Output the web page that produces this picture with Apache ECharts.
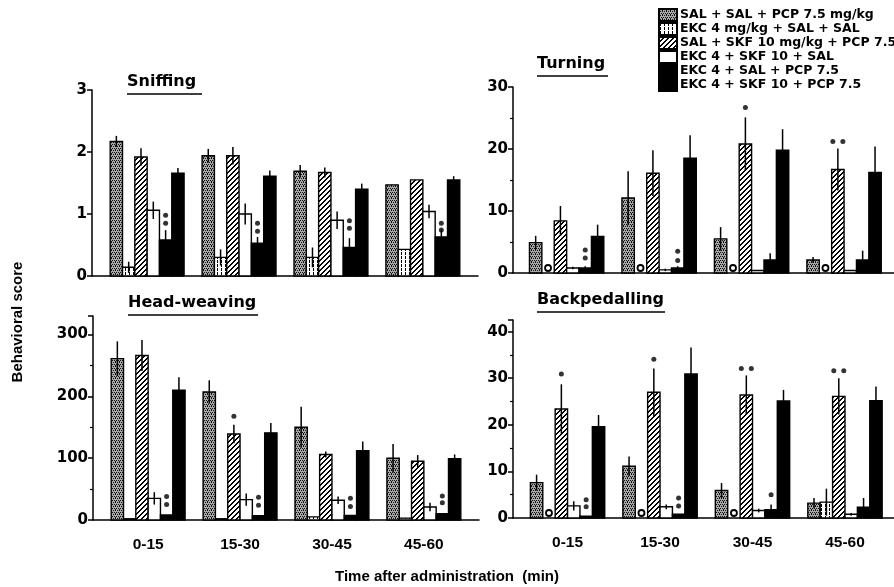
<!DOCTYPE html>
<html>
<head>
<meta charset="utf-8">
<script src="https://cdn.jsdelivr.net/npm/echarts@6/dist/echarts.min.js"></script>
<style>
  html, body { margin: 0; padding: 0; background: #fff; }
  #chart { width: 894px; height: 587px; }
</style>
</head>
<body>
<div id="chart"></div>
<script>
// categories and treatments
var groups = ['0-15', '15-30', '30-45', '45-60'];
var treatments = [
    'SAL + SAL + PCP 7.5 mg/kg',
    'EKC 4 mg/kg + SAL + SAL',
    'SAL + SKF 10 mg/kg + PCP 7.5',
    'EKC 4 + SKF 10 + SAL',
    'EKC 4 + SAL + PCP 7.5',
    'EKC 4 + SKF 10 + PCP 7.5'
];

// Sniffing: mean / sem, one row per treatment
var sniffMean = [
    [2.17, 1.94, 1.69, 1.47],
    [0.14, 0.30, 0.30, 0.43],
    [1.92, 1.94, 1.67, 1.55],
    [1.06, 1.00, 0.90, 1.04],
    [0.58, 0.53, 0.46, 0.63],
    [1.66, 1.61, 1.40, 1.55]
];
var sniffErr = [
    [0.09, 0.11, 0.10, 0],
    [0.09, 0.13, 0.16, 0],
    [0.14, 0.14, 0.08, 0],
    [0.14, 0.17, 0.14, 0.11],
    [0.16, 0.10, 0.15, 0.12],
    [0.08, 0.09, 0.09, 0.06]
];
// Turning
var turnMean = [
    [4.9, 12.1, 5.5, 2.1],
    [0, 0, 0, 0],
    [8.4, 16.1, 20.8, 16.7],
    [0.8, 0.5, 0.4, 0.4],
    [0.8, 0.8, 2.1, 2.1],
    [5.9, 18.5, 19.8, 16.2]
];
var turnErr = [
    [1.1, 4.3, 1.9, 0.5],
    [0, 0, 0, 0],
    [2.4, 3.7, 4.3, 3.4],
    [0.2, 0.2, 0, 0],
    [0.3, 0.3, 1.1, 1.5],
    [1.9, 3.7, 3.4, 4.2]
];
// Head-weaving
var headMean = [
    [261, 207, 150, 100],
    [2, 2, 5, 3],
    [266, 139, 106, 95],
    [35, 33, 32, 21],
    [8, 7, 7.5, 10],
    [210, 141, 112, 99]
];
var headErr = [
    [28, 19, 33, 23],
    [0, 0, 0, 0],
    [25, 15, 5, 10],
    [10, 10, 6, 7],
    [0, 0, 0, 0],
    [21, 16, 15, 7]
];
// Backpedalling
var backMean = [
    [7.6, 11.1, 5.9, 3.2],
    [0, 0, 0, 3.4],
    [23.4, 27.0, 26.4, 26.1],
    [2.6, 2.4, 1.6, 0.8],
    [0.4, 0.8, 1.8, 2.3],
    [19.6, 30.9, 25.1, 25.2]
];
var backErr = [
    [1.7, 2.1, 1.6, 1.1],
    [0, 0, 0, 2.9],
    [5.3, 5.1, 4.2, 3.9],
    [1.0, 0.5, 0.4, 0.3],
    [0, 0, 1.1, 2.0],
    [2.5, 5.7, 2.4, 3.0]
];

// significance dots: [group, treatment, y, dx(px)]
var sniffStars = [[0, 4, 0.98], [0, 4, 0.85], [1, 4, 0.85], [1, 4, 0.72], [2, 4, 0.89], [2, 4, 0.77], [3, 4, 0.85], [3, 4, 0.74]];
var turnStars = [[0, 4, 3.7], [0, 4, 2.4], [1, 4, 3.5], [1, 4, 2.0], [2, 2, 26.7], [3, 2, 21.2, -5], [3, 2, 21.2, 5]];
var headStars = [[0, 4, 38], [0, 4, 25], [1, 2, 168], [1, 4, 37], [1, 4, 24], [2, 4, 35], [2, 4, 22], [3, 4, 39], [3, 4, 28]];
var backStars = [[0, 2, 30.9], [0, 4, 3.9], [0, 4, 2.4], [1, 2, 34.1], [1, 4, 4.3], [1, 4, 2.6], [2, 2, 32.1, -5], [2, 2, 32.1, 5], [2, 4, 5.0], [3, 2, 31.6, -5], [3, 2, 31.6, 5]];

var BAR_W = 0.134;
var FONT = 'DejaVu Sans';

function makePattern(w, h, draw) {
    var c = document.createElement('canvas');
    c.width = w;
    c.height = h;
    draw(c.getContext('2d'));
    return { image: c, repeat: 'repeat' };
}

// 印刷风格填充
var fills = [
    makePattern(4, 4, function (ctx) {
        ctx.fillStyle = '#a8a8a8';
        ctx.fillRect(0, 0, 4, 4);
        ctx.fillStyle = '#111';
        ctx.fillRect(0, 0, 1, 1);
        ctx.fillRect(2, 0, 1, 1);
        ctx.fillRect(1, 2, 1, 1);
        ctx.fillRect(3, 2, 1, 1);
        ctx.fillRect(3, 1, 1, 1);
    }),
    makePattern(4, 4, function (ctx) {
        ctx.fillStyle = '#fff';
        ctx.fillRect(0, 0, 4, 4);
        ctx.fillStyle = '#000';
        ctx.fillRect(1, 0, 1, 3);
    }),
    makePattern(5, 5, function (ctx) {
        ctx.fillStyle = '#fff';
        ctx.fillRect(0, 0, 5, 5);
        ctx.fillStyle = '#000';
        for (var i = 0; i < 5; i++) {
            ctx.fillRect(i, 4 - i, 1, 1);
            ctx.fillRect(i, (5 - i) % 5, 1, 1);
        }
    }),
    '#ffffff',
    '#000000',
    '#000000'
];

function makeBarRenderer(k) {
    return function (params, api) {
        var g = api.value(0), v = api.value(1), e = api.value(2);
        var xc = g + (k - 2.5) * BAR_W;
        var p0 = api.coord([xc - BAR_W / 2, v]);
        var p1 = api.coord([xc + BAR_W / 2, 0]);
        var children = [];
        if (v > 0) {
            children.push({
                type: 'rect',
                shape: { x: p0[0], y: p0[1], width: p1[0] - p0[0], height: p1[1] - p0[1] },
                style: { fill: fills[k], stroke: '#000', lineWidth: 1.4 }
            });
        } else {
            children.push({
                type: 'circle',
                shape: { cx: (p0[0] + p1[0]) / 2, cy: p1[1] - 5, r: 3 },
                style: { fill: 'none', stroke: '#000', lineWidth: 1.8 }
            });
        }
        if (e > 0) {
            var t = api.coord([xc, v + e]);
            var b = api.coord([xc, Math.max(0, v - e)]);
            children.push({
                type: 'line',
                shape: { x1: t[0], y1: t[1], x2: b[0], y2: b[1] },
                style: { stroke: '#000', lineWidth: 1.5 }
            });
        }
        return { type: 'group', children: children };
    };
}

var panels = [
    { mean: sniffMean, err: sniffErr, stars: sniffStars, grid: { left: 92, top: 90, width: 386, height: 186 },
      xMin: -0.6, xMax: 3.6, yMax: 3, interval: 1, minor: false, showX: false },
    { mean: turnMean, err: turnErr, stars: turnStars, grid: { left: 513, top: 87, width: 381, height: 186 },
      xMin: -0.58, xMax: 3.54, yMax: 30, interval: 10, minor: true, showX: false },
    { mean: headMean, err: headErr, stars: headStars, grid: { left: 93, top: 316, width: 386, height: 204 },
      xMin: -0.6, xMax: 3.6, yMax: 330, interval: 100, minor: true, showX: true },
    { mean: backMean, err: backErr, stars: backStars, grid: { left: 513, top: 320, width: 381, height: 198 },
      xMin: -0.59, xMax: 3.53, yMax: 42.5, interval: 10, minor: true, showX: true }
];

var grids = [], xAxes = [], yAxes = [], series = [];

panels.forEach(function (p, pi) {
    grids.push(p.grid);
    xAxes.push({
        type: 'value',
        gridIndex: pi,
        min: p.xMin,
        max: p.xMax,
        axisLine: { show: true, onZero: false, lineStyle: { color: '#000', width: 1.5 } },
        axisTick: { show: false },
        splitLine: { show: false },
        axisLabel: {
            show: p.showX,
            customValues: [0, 1, 2, 3],
            formatter: function (v) { return groups[Math.round(v)]; },
            color: '#000',
            fontFamily: 'Liberation Sans',
            fontWeight: 'bold',
            fontSize: 15.5,
            margin: 17
        }
    });
    yAxes.push({
        type: 'value',
        gridIndex: pi,
        min: 0,
        max: p.yMax,
        interval: p.interval,
        axisLine: { show: true, onZero: false, lineStyle: { color: '#000', width: 1.5 } },
        axisTick: { show: true, length: 5, lineStyle: { color: '#000', width: 1.5 } },
        minorTick: { show: p.minor, splitNumber: 2, length: 3, lineStyle: { color: '#000', width: 1.2 } },
        splitLine: { show: false },
        axisLabel: {
            color: '#000',
            fontFamily: FONT,
            fontWeight: 'bold',
            fontSize: 15,
            margin: 5,
            showMaxLabel: p.yMax % p.interval === 0
        }
    });

    for (var k = 0; k < 6; k++) {
        var data = [];
        for (var g = 0; g < groups.length; g++) {
            data.push([g, p.mean[k][g], p.err[k][g]]);
        }
        series.push({
            name: treatments[k],
            type: 'custom',
            xAxisIndex: pi,
            yAxisIndex: pi,
            renderItem: makeBarRenderer(k),
            itemStyle: { color: fills[k], borderColor: '#000', borderWidth: 1 },
            encode: { x: 0, y: 1 },
            data: data
        });
    }

    series.push({
        type: 'scatter',
        xAxisIndex: pi,
        yAxisIndex: pi,
        symbol: 'circle',
        symbolSize: 5,
        itemStyle: { color: '#000' },
        silent: true,
        data: p.stars.map(function (s) {
            return {
                value: [s[0] + (s[1] - 2.5) * BAR_W, s[2]],
                symbolOffset: [s[3] || 0, 0]
            };
        })
    });
});

function titleWithLine(text, x, y, w) {
    return [
        { type: 'text', left: x, top: y - 9,
          style: { text: text, fill: '#000', font: 'bold 16px "DejaVu Sans"' } },
        { type: 'line', shape: { x1: x, y1: y + 11, x2: x + w, y2: y + 11 },
          style: { stroke: '#000', lineWidth: 1.5 } }
    ];
}

var graphics = []
    .concat(titleWithLine('Sniffing', 127, 83, 75))
    .concat(titleWithLine('Turning', 537, 65, 71))
    .concat(titleWithLine('Head-weaving', 128, 304, 130))
    .concat(titleWithLine('Backpedalling', 537, 301, 128));

graphics.push({
    type: 'text',
    x: 18, y: 322,
    rotation: Math.PI / 2,
    style: { text: 'Behavioral score', fill: '#000', font: 'bold 15px "Liberation Sans"',
             align: 'center', verticalAlign: 'middle' }
});
graphics.push({
    type: 'text',
    x: 447, y: 577,
    style: { text: 'Time after administration  (min)', fill: '#000', font: 'bold 15px "Liberation Sans"',
             align: 'center', verticalAlign: 'middle' }
});

var chart = echarts.init(document.getElementById('chart'));
chart.setOption({
    backgroundColor: '#ffffff',
    animation: false,
    grid: grids,
    xAxis: xAxes,
    yAxis: yAxes,
    legend: {
        data: treatments,
        orient: 'vertical',
        left: 653,
        top: 3,
        icon: 'rect',
        itemWidth: 18,
        itemHeight: 12,
        itemGap: 0,
        selectedMode: false,
        textStyle: { color: '#000', fontFamily: FONT, fontWeight: 'bold', fontSize: 12.5, lineHeight: 12, padding: [0, 0, 0, -2] }
    },
    graphic: graphics,
    series: series
});
</script>
</body>
</html>
